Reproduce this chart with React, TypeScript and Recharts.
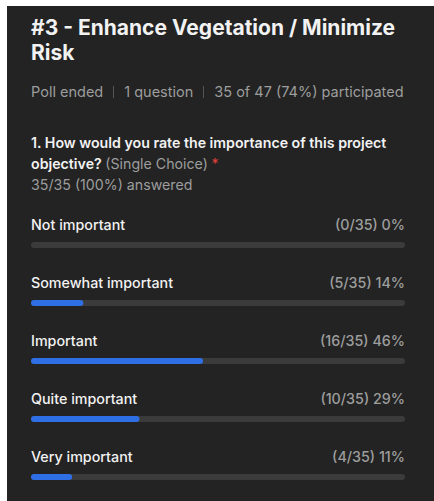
import React from "react";
import { BarChart, Bar, XAxis, YAxis, LabelList } from "recharts";

// ---------------------------------------------------------------------------
// Data
// ---------------------------------------------------------------------------

const choices = [
  "Not important",
  "Somewhat important",
  "Important",
  "Quite important",
  "Very important",
];
const votes = [0, 5, 16, 10, 4];
const percents = [0, 14, 46, 29, 11];
const totalAnswered = 35;

// track is always 100%, fill is the share of answers
const data = choices.map((name, i) => ({
  name,
  votes: votes[i],
  pct: percents[i],
  track: 100,
}));

// ---------------------------------------------------------------------------
// Style constants
// ---------------------------------------------------------------------------

const FONT = "Inter, 'Noto Sans', sans-serif";
const PANEL = "#232323";
const TRACK = "#3b3b3b";
const BLUE = "#2f6fe6";
const WHITE = "#f2f2f2";
const GRAY = "#9d9d9d";

const PLOT_X = 31;
const PLOT_W = 374;
const BAND = 58;
const BAR_H = 6;

// label row sits above each track: name left, count/percent right
function RowLabel(props: any) {
  const { x, y, width, index } = props;
  const cy = Number(y) + BAR_H / 2 - 21;
  return (
    <g>
      <text
        x={x}
        y={cy}
        dominantBaseline="central"
        fill={WHITE}
        fontSize={14.3}
        fontWeight={500}
        fontFamily={FONT}
      >
        {choices[index]}
      </text>
      <text
        x={Number(x) + Number(width)}
        y={cy}
        dominantBaseline="central"
        textAnchor="end"
        fill={GRAY}
        fontSize={14.3}
        fontWeight={500}
        fontFamily={FONT}
      >
        {`(${votes[index]}/${totalAnswered}) ${percents[index]}%`}
      </text>
    </g>
  );
}

function Sep() {
  return (
    <span
      style={{
        display: "inline-block",
        width: 1,
        height: 12,
        background: "#555",
        margin: "0 10px",
        verticalAlign: "-1px",
      }}
    />
  );
}

export default function App() {
  return (
    <div
      style={{
        position: "fixed",
        left: 0,
        top: 0,
        width: 434,
        height: 501,
        overflow: "hidden",
        background: "#ffffff",
        fontFamily: FONT,
      }}
    >
      <div
        style={{
          position: "absolute",
          left: 7,
          top: 6,
          width: 427,
          height: 495,
          background: PANEL,
        }}
      />
      <div
        style={{
          position: "absolute",
          left: 31,
          top: 15,
          width: 385,
          fontSize: 21,
          fontWeight: 700,
          lineHeight: "25px",
          color: WHITE,
        }}
      >
        #3 - Enhance Vegetation / Minimize Risk
      </div>
      <div
        style={{
          position: "absolute",
          left: 31,
          top: 83,
          fontSize: 14.5,
          lineHeight: "18px",
          color: GRAY,
          whiteSpace: "nowrap",
        }}
      >
        Poll ended<Sep />1 question<Sep />35 of 47 (74%) participated
      </div>
      <div
        style={{
          position: "absolute",
          left: 31,
          top: 132,
          width: 385,
          fontSize: 14.2,
          lineHeight: "21px",
          color: WHITE,
          fontWeight: 600,
        }}
      >
        <div>1. How would you rate the importance of this project</div>
        <div>
          objective? <span style={{ color: GRAY, fontWeight: 400 }}>(Single Choice)</span>{" "}
          <span style={{ color: "#e0403a", fontWeight: 400 }}>*</span>
        </div>
        <div style={{ color: GRAY, fontWeight: 400 }}>
          {totalAnswered}/{totalAnswered} (100%) answered
        </div>
      </div>
      <div style={{ position: "absolute", left: PLOT_X, top: 216 }}>
        <BarChart
          width={PLOT_W}
          height={BAND * choices.length}
          data={data}
          layout="vertical"
          barGap={-BAR_H}
          margin={{ top: 0, right: 0, bottom: 0, left: 0 }}
        >
          <XAxis type="number" domain={[0, 100]} hide />
          <YAxis type="category" dataKey="name" hide />
          <Bar
            dataKey="track"
            barSize={BAR_H}
            fill={TRACK}
            radius={3}
            isAnimationActive={false}
          >
            <LabelList dataKey="name" content={<RowLabel />} />
          </Bar>
          <Bar
            dataKey="pct"
            barSize={BAR_H}
            fill={BLUE}
            radius={3}
            isAnimationActive={false}
          />
        </BarChart>
      </div>
    </div>
  );
}
